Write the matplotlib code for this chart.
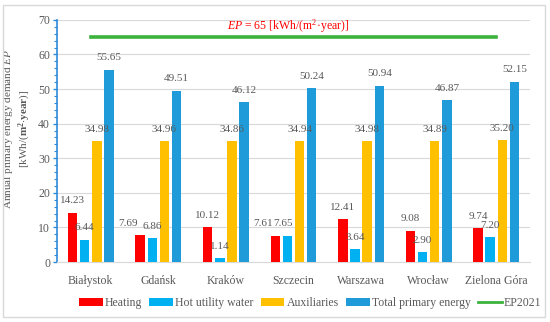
import matplotlib
matplotlib.use("Agg")
import matplotlib.pyplot as plt
import numpy as np
from matplotlib.patches import Rectangle, Patch
from matplotlib.lines import Line2D

# Datos
ciudades = ['Białystok', 'Gdańsk', 'Kraków', 'Szczecin', 'Warszawa', 'Wrocław', 'Zielona Góra']
heating = [14.23, 7.69, 10.12, 7.61, 12.41, 9.08, 9.74]
hot_water = [6.44, 6.86, 1.14, 7.65, 3.64, 2.90, 7.20]
auxiliaries = [34.98, 34.96, 34.86, 34.94, 34.98, 34.89, 35.20]
total = [55.65, 49.51, 46.12, 50.24, 50.94, 46.87, 52.15]
ep_limite = 65

GRIS = '#595959'
plt.rcParams['font.family'] = ['Liberation Serif', 'DejaVu Serif']
plt.rcParams['mathtext.fontset'] = 'custom'
plt.rcParams['mathtext.rm'] = 'Liberation Serif'
plt.rcParams['mathtext.it'] = 'Liberation Serif:italic'
plt.rcParams['mathtext.bf'] = 'Liberation Serif:bold'

fig = plt.figure(figsize=(5.5, 3.22), dpi=100)
ax = fig.add_axes([0.1036, 0.1863, 0.86, 0.752])

x = np.arange(len(ciudades))
ancho = 0.14
series = [
    (heating, '#FF0000', 'Heating', -0.27),
    (hot_water, '#00B0F0', 'Hot utility water', -0.09),
    (auxiliaries, '#FFC000', 'Auxiliaries', 0.09),
    (total, '#1F9BDA', 'Total primary energy', 0.27),
]
# desplazamiento horizontal (px) de algunas etiquetas, como en el original
desplaz = {
    'Heating': [0, -12, 0, -12, 0, 0, 0],
    'Hot utility water': [0, 0, 0, -4, 0, 0, 0],
}

for valores, color, nombre, off in series:
    ax.bar(x + off, valores, width=ancho, color=color, zorder=3)
    dx = desplaz.get(nombre, [0] * len(valores))
    for xi, v, d in zip(x + off, valores, dx):
        ax.annotate(f'{v:.2f}', (xi, v), xytext=(d * 0.72, 8.5), textcoords='offset points',
                    ha='center', va='center', fontsize=8, color=GRIS, zorder=4)

ax.plot([x[0], x[-1]], [ep_limite, ep_limite], color='#3CB33C', lw=2.6, zorder=3)
ax.text(2.92, 68.3, r'$\mathit{EP}$ = 65 [kWh/(m$^2$·year)]',
        ha='center', va='center', fontsize=8.5, color='#FF0000')

ax.set_xlim(-0.5, 6.5)
ax.set_ylim(0, 70)
ax.set_yticks(np.arange(0, 71, 10))
ax.set_yticks(np.arange(0, 71, 2), minor=True)
ax.set_xticks(x)
ax.set_xticklabels(ciudades, fontsize=8.5, color=GRIS)
ax.tick_params(axis='x', length=0, pad=9)
ax.tick_params(axis='y', which='major', length=3, width=1, color='#2E8BD9', labelsize=8.5,
               labelcolor=GRIS, pad=2)
ax.tick_params(axis='y', which='minor', length=2.2, width=0.8, color='#2E8BD9')
ax.grid(axis='y', color='#D9D9D9', lw=0.8, zorder=0)
for lado in ['top', 'right']:
    ax.spines[lado].set_visible(False)
ax.spines['left'].set_color('#2E8BD9')
ax.spines['left'].set_linewidth(1.2)
ax.spines['bottom'].set_color('#D9D9D9')

ax.set_ylabel('Annual primary energy demand $\\mathit{EP}$\n[kWh/($\\mathbf{m^2{\\cdot}year}$)]',
              fontsize=8, color=GRIS, linespacing=1.25)
ax.yaxis.set_label_coords(-0.05, 0.55)

handles = [Patch(facecolor=c, label=n) for _, c, n, _ in series]
handles.append(Line2D([0], [0], color='#3CB33C', lw=2, label='EP2021'))
fig.legend(handles=handles, loc='center', bbox_to_anchor=(0.564, 0.059), ncol=5, frameon=False,
           fontsize=8.5, labelcolor=GRIS, handlelength=2.0, handleheight=0.7, columnspacing=0.6,
           handletextpad=0.2)

fig.patches.append(Rectangle((0.006, 0.015), 0.985, 0.97, transform=fig.transFigure,
                             fill=False, edgecolor='#D9D9D9', lw=1))

fig.savefig('out.png', dpi=100)
